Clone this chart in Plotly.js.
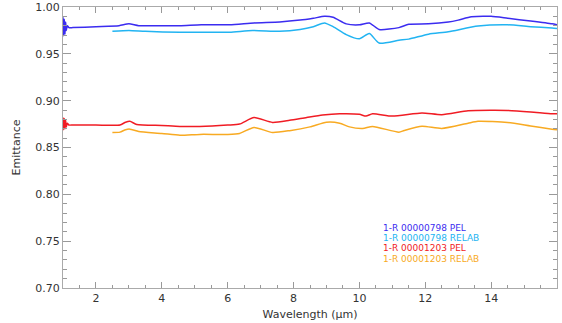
<!DOCTYPE html>
<html><head><meta charset="utf-8">
<script src="https://cdn.plot.ly/plotly-3.0.1.min.js"></script>
<style>body{margin:0;background:#fff}#c{width:562px;height:323px}</style>
</head><body><div id="c"></div>
<script>
const pel798X = [1.00,1.02,1.04,1.06,1.08,1.10,1.13,1.18,1.3,2.0,2.7,3.0,3.3,4.0,4.55,5.2,6.06,6.8,7.58,8.2,8.6,8.94,9.2,9.6,10.0,10.3,10.6,11.2,11.5,12.1,12.7,13.0,13.4,14.0,14.5,15.2,15.85,16.0];
const pel798Y = [0.989,0.969,0.987,0.971,0.984,0.975,0.980,0.978,0.978,0.979,0.980,0.982,0.980,0.980,0.980,0.981,0.981,0.983,0.984,0.986,0.988,0.990,0.989,0.982,0.981,0.983,0.976,0.978,0.9815,0.982,0.984,0.986,0.9895,0.990,0.988,0.985,0.982,0.981];
const relab798X = [2.5,3.0,3.5,4.55,5.3,6.06,6.76,7.58,8.2,8.6,8.94,9.2,9.6,10.0,10.3,10.6,11.2,11.5,12.1,12.7,13.6,14.5,15.2,15.85,16.0];
const relab798Y = [0.974,0.975,0.974,0.973,0.973,0.973,0.975,0.974,0.976,0.979,0.983,0.979,0.9705,0.966,0.9716,0.9615,0.9645,0.9657,0.971,0.9735,0.9796,0.981,0.979,0.9775,0.977];
const pel1203X = [1.00,1.02,1.04,1.06,1.08,1.10,1.13,1.18,1.3,2.0,2.73,2.9,3.03,3.24,4.0,4.55,5.15,6.0,6.36,6.8,7.36,7.88,8.4,8.88,9.4,10.0,10.2,10.4,11.0,11.9,12.5,13.3,14.0,14.5,15.2,15.85,16.0];
const pel1203Y = [0.882,0.869,0.881,0.870,0.879,0.872,0.876,0.874,0.874,0.874,0.874,0.877,0.878,0.8746,0.8735,0.8725,0.8725,0.874,0.875,0.882,0.8768,0.879,0.882,0.8846,0.886,0.8854,0.8835,0.886,0.8835,0.8868,0.885,0.8893,0.8898,0.8896,0.888,0.886,0.886];
const relab1203X = [2.5,2.73,2.9,3.03,3.3,4.0,4.55,5.15,6.0,6.36,6.8,7.36,7.88,8.5,9.0,9.4,9.7,10.1,10.4,11.2,11.36,11.9,12.5,13.3,13.6,14.5,15.2,15.85,16.0];
const relab1203Y = [0.866,0.8664,0.869,0.8696,0.867,0.865,0.863,0.864,0.864,0.865,0.8714,0.866,0.868,0.872,0.877,0.876,0.872,0.8704,0.8725,0.8664,0.8682,0.8728,0.8704,0.876,0.8779,0.8768,0.873,0.8696,0.869];
const legendLabels = ["1-R 00000798 PEL","1-R 00000798 RELAB","1-R 00001203 PEL","1-R 00001203 RELAB"];
const colors = ["#3b2cf0","#22b4f2","#f01c24","#f8aa22"];
const xTicks = [2,4,6,8,10,12,14,16];
const yTicks = [0.70,0.75,0.80,0.85,0.90,0.95,1.00];

const series = [[pel798X,pel798Y],[relab798X,relab798Y],[pel1203X,pel1203Y],[relab1203X,relab1203Y]];
const traces = series.map((s,i)=>({x:s[0],y:s[1],type:'scatter',mode:'lines',line:{color:colors[i],width:1.5,shape:'spline',smoothing:0.6},name:legendLabels[i],hoverinfo:'skip'}));
// invisible copy to anchor mirrored tick axes
traces.push({x:pel798X,y:pel798Y,xaxis:'x2',yaxis:'y2',type:'scatter',mode:'lines',line:{width:0},opacity:0,hoverinfo:'skip'});

const annotations = legendLabels.map((t,i)=>({text:t,xref:'paper',yref:'paper',x:(381-63)/494,y:(288-(228+i*10.2))/281,xanchor:'left',yanchor:'middle',showarrow:false,font:{family:'DejaVu Sans, sans-serif',size:9,color:colors[i]}}));

const tf = {family:'DejaVu Sans, sans-serif',size:11,color:'#333'};
const axisCommon = {showgrid:false,zeroline:false,showline:true,linecolor:'#aaa',linewidth:1,ticks:'inside',tickcolor:'#999',tickfont:tf};
const xMinor = {dtick:0.5,tick0:1,ticklen:3,ticks:'inside',tickcolor:'#999'};
const yMinor = {dtick:0.01,tick0:0.7,ticklen:4,ticks:'inside',tickcolor:'#999'};
const layout = {
  width:562,height:323,margin:{l:63,r:5,t:7,b:35},paper_bgcolor:'#fff',plot_bgcolor:'#fff',showlegend:false,
  xaxis:Object.assign({},axisCommon,{range:[1,16],tickvals:xTicks,ticktext:xTicks.map(String),ticklen:6,minor:xMinor,title:{text:'Wavelength (μm)',font:tf,standoff:6}}),
  yaxis:Object.assign({},axisCommon,{range:[0.70,1.00],tickvals:yTicks,ticktext:yTicks.map(v=>v.toFixed(2)),ticklen:8,minor:yMinor,title:{text:'Emittance',font:tf,standoff:12}}),
  xaxis2:Object.assign({},axisCommon,{range:[1,16],overlaying:'x',side:'top',anchor:'y2',tickvals:xTicks,showticklabels:false,ticklen:6,minor:xMinor}),
  yaxis2:Object.assign({},axisCommon,{range:[0.70,1.00],overlaying:'y',side:'right',anchor:'x2',tickvals:yTicks,showticklabels:false,ticklen:8,minor:yMinor}),
  annotations:annotations
};
Plotly.newPlot('c',traces,layout,{staticPlot:true});
</script></body></html>
